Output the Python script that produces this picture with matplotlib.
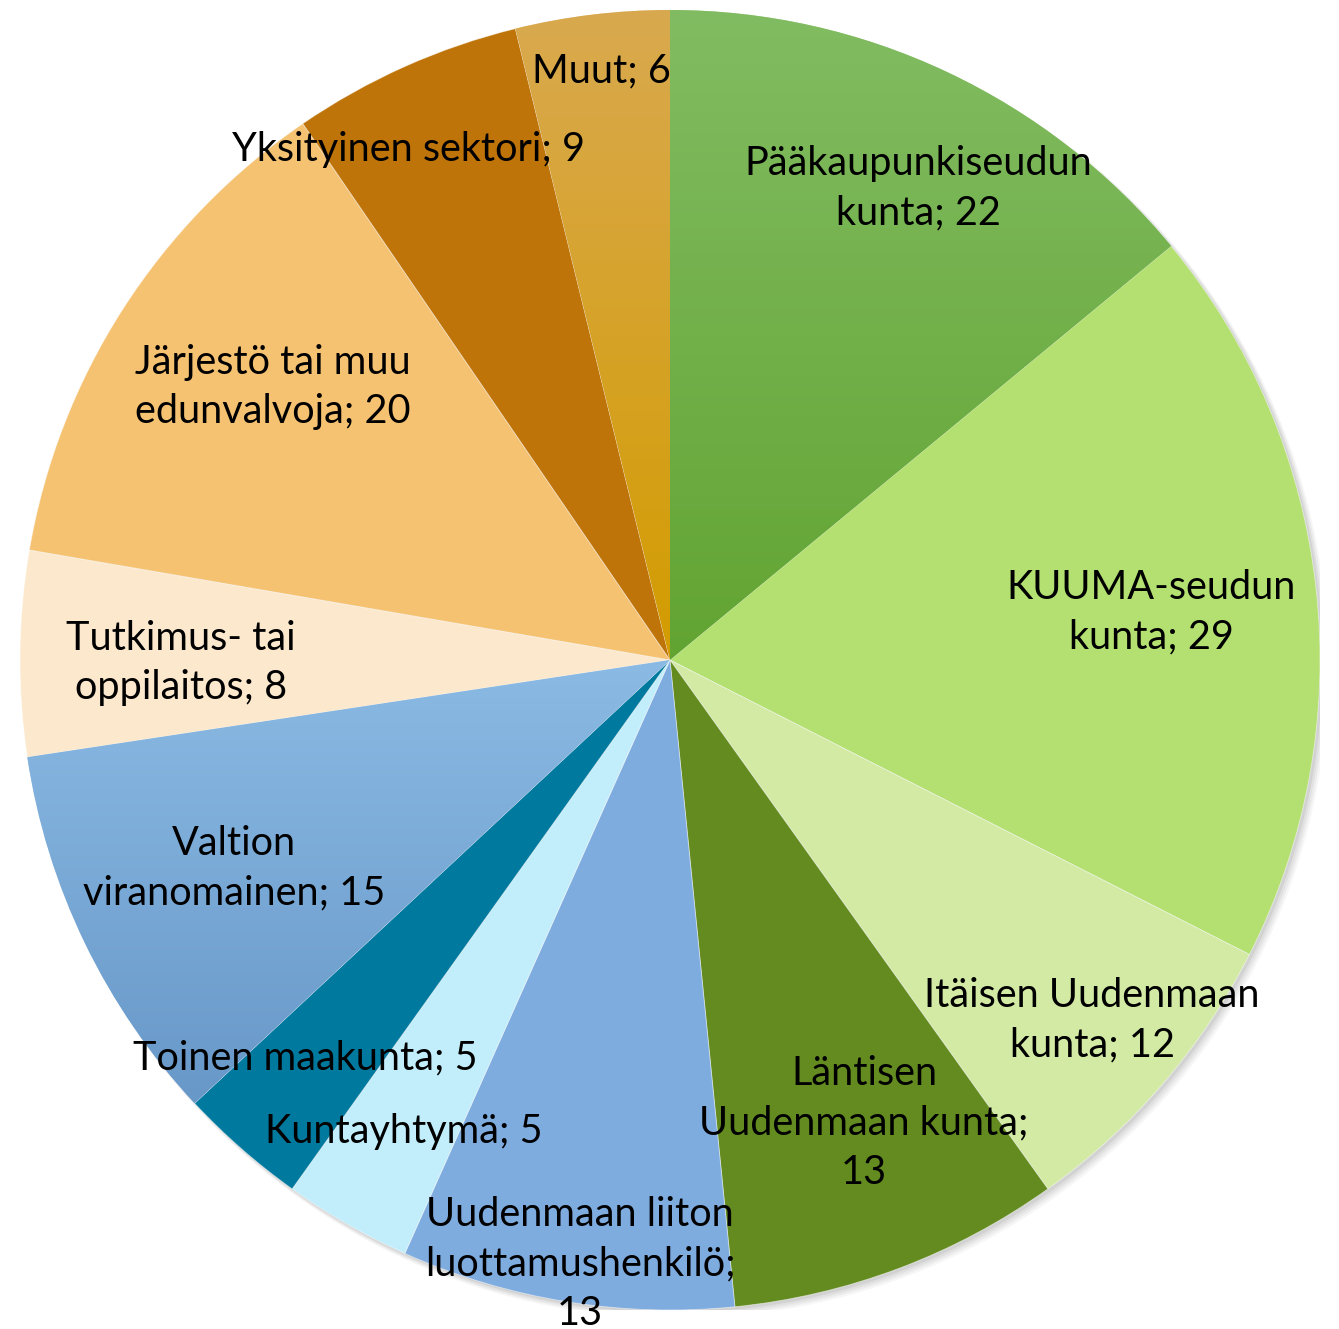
import matplotlib
matplotlib.use("Agg")
import matplotlib.pyplot as plt
import numpy as np
from matplotlib.colors import to_rgb
from matplotlib.patches import Circle

labels = ["Pääkaupunkiseudun\nkunta", "KUUMA-seudun\nkunta", "Itäisen Uudenmaan\nkunta",
          "Läntisen\nUudenmaan kunta", "Uudenmaan liiton\nluottamushenkilö",
          "Kuntayhtymä", "Toinen maakunta", "Valtion\nviranomainen",
          "Tutkimus- tai\noppilaitos", "Järjestö tai muu\nedunvalvoja",
          "Yksityinen sektori", "Muut"]
values = [22, 29, 12, 13, 13, 5, 5, 15, 8, 20, 9, 6]
# separator between name and value (newline where the value wraps)
value_sep = ["; ", "; ", "; ", ";\n", ";\n", "; ", "; ", "; ", "; ", "; ", "; ", "; "]

top_colors = ["#82bc62", "#b3e070", "#d2eaa4", "#638b1f", "#7facdf", "#c2eefc",
              "#00799f", "#8bbae4", "#fce9cd", "#f5c272", "#bf740a", "#d9a94f"]
bot_colors = ["#62a432", "#b3e070", "#d2eaa4", "#638b1f", "#7facdf", "#c2eefc",
              "#00799f", "#6898c8", "#fce9cd", "#f5c272", "#bf740a", "#d39c00"]

# label centres in pixels (layout)
label_px = [(918, 188), (1151, 612), (1092, 1020), (864, 1123), (580, 1264),
            (404, 1131), (305, 1058), (234, 868), (181, 663), (273, 387),
            (409, 149), (601, 71)]

W, H = 1339, 1329
fig = plt.figure(figsize=(W / 100, H / 100), dpi=100)
cx, cy, R = 670, 660, 650
ax = fig.add_axes([(cx - R) / W, (H - cy - R) / H, 2 * R / W, 2 * R / H])
ax.set_xlim(-1, 1)
ax.set_ylim(-1, 1)
ax.set_aspect("equal")
ax.axis("off")

# soft shadow (lower right)
for i, a in enumerate([0.04, 0.05, 0.06, 0.08]):
    s = Circle((0.004 + 0.002 * (3 - i), -0.004 - 0.002 * (3 - i)), 1.0 + 0.001 * (3 - i),
               facecolor="#303030", edgecolor="none", alpha=a, zorder=0)
    ax.add_patch(s)

wedges, _ = ax.pie(values, startangle=90, counterclock=False, radius=1.0,
                   colors=top_colors, wedgeprops=dict(linewidth=0.6, edgecolor="#ffffff80"),
                   center=(0, 0), frame=False)
ax.set_xlim(-1, 1)
ax.set_ylim(-1, 1)
ax.set_axis_off()

for w, c1, c2 in zip(wedges, top_colors, bot_colors):
    if c1 != c2:
        verts = w.get_path().vertices
        x0, x1 = verts[:, 0].min(), verts[:, 0].max()
        y0, y1 = verts[:, 1].min(), verts[:, 1].max()
        t = np.linspace(0, 1, 256)[:, None]
        a1, a2 = np.array(to_rgb(c1)), np.array(to_rgb(c2))
        grad = (a1[None, :] * (1 - t) + a2[None, :] * t)[:, None, :]
        im = ax.imshow(grad, extent=(x0, x1, y0, y1), origin="upper",
                       aspect="auto", zorder=w.get_zorder() + 0.1, interpolation="bilinear")
        im.set_clip_path(w)
ax.set_xlim(-1, 1)
ax.set_ylim(-1, 1)

fam = ["Lato", "DejaVu Sans"]
for lab, v, sep, (px, py) in zip(labels, values, value_sep, label_px):
    xd = (px - cx) / R
    yd = (cy - py) / R
    ax.text(xd, yd, f"{lab}{sep}{v}", ha="center", va="center", multialignment="center",
            fontsize=28.5, family=fam, color="black", linespacing=1.42, zorder=10)

fig.savefig("out.png", dpi=100)
